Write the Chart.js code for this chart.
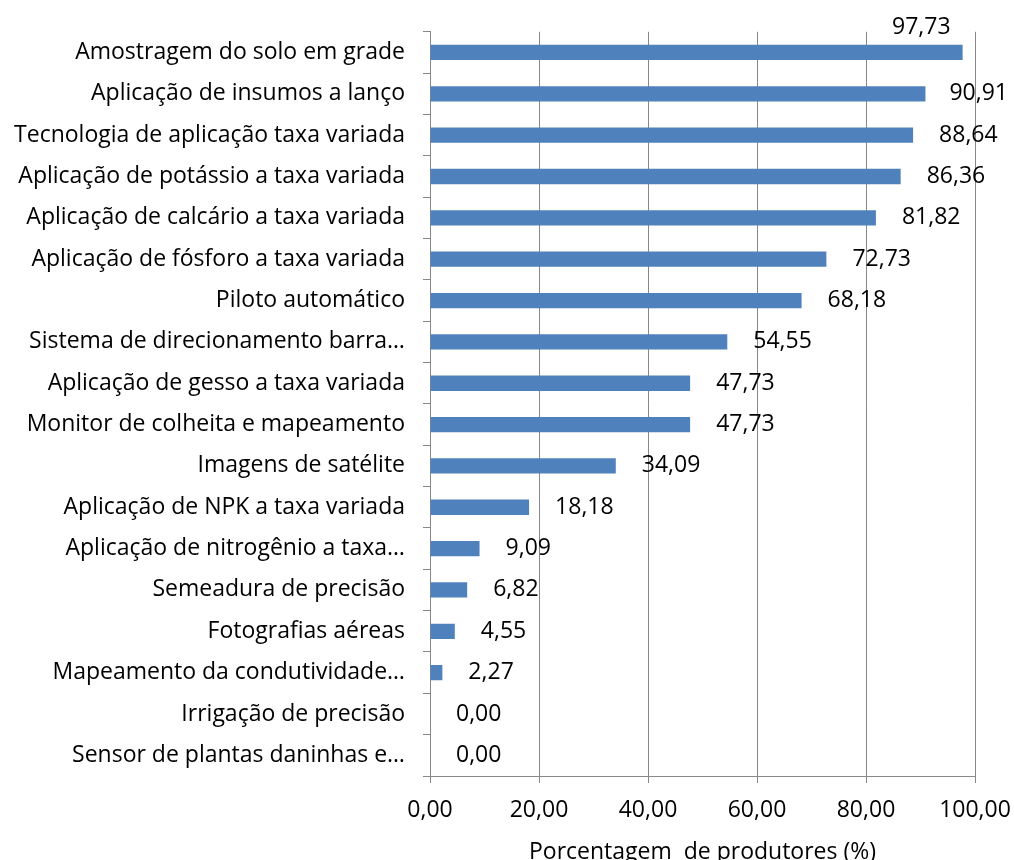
<!DOCTYPE html>
<html>
<head>
<meta charset="utf-8">
<script src="https://cdn.jsdelivr.net/npm/chart.js@4"></script>
<style>
  html, body { margin: 0; padding: 0; background: #fff; overflow: hidden; }
  #wrap { width: 1040px; height: 866px; }
</style>
</head>
<body>
<div id="wrap"><canvas id="myChart"></canvas></div>
<script>
// dados
const categorias = [
    'Amostragem do solo em grade',
    'Aplicação de insumos a lanço',
    'Tecnologia de aplicação taxa variada',
    'Aplicação de potássio a taxa variada',
    'Aplicação de calcário a taxa variada',
    'Aplicação de fósforo a taxa variada',
    'Piloto automático',
    'Sistema de direcionamento barra…',
    'Aplicação de gesso a taxa variada',
    'Monitor de colheita e mapeamento',
    'Imagens de satélite',
    'Aplicação de NPK a taxa variada',
    'Aplicação de nitrogênio a taxa…',
    'Semeadura de precisão',
    'Fotografias aéreas',
    'Mapeamento da condutividade…',
    'Irrigação de precisão',
    'Sensor de plantas daninhas e…'
];
const valores = [97.73, 90.91, 88.64, 86.36, 81.82, 72.73, 68.18, 54.55, 47.73, 47.73, 34.09, 18.18, 9.09, 6.82, 4.55, 2.27, 0.00, 0.00];
const ticksX = [0, 20, 40, 60, 80, 100];

const fmt = v => v.toFixed(2).replace('.', ',');
const fonte = "'Open Sans', sans-serif";
const tam = 23;
const larguraVisivel = 1014;

// rotulos de dados ao lado das barras
const rotulos = {
    id: 'rotulos',
    afterDatasetsDraw(chart) {
        const ctx = chart.ctx;
        const meta = chart.getDatasetMeta(0);
        ctx.save();
        ctx.font = tam + 'px ' + fonte;
        ctx.fillStyle = '#000';
        ctx.textBaseline = 'middle';
        meta.data.forEach((bar, i) => {
            const txt = fmt(valores[i]);
            const w = ctx.measureText(txt).width;
            let x = Math.min(bar.x + 26, larguraVisivel - w - 6);
            let y = bar.y;
            if (x < bar.x + 8) {
                // sem espaco: vai acima do fim da barra
                x = bar.x - w - 12;
                y = bar.y - 25;
            }
            ctx.fillText(txt, x, y);
        });
        ctx.restore();
    }
};

const config = {
    type: 'bar',
    data: {
        labels: categorias,
        datasets: [{
            data: valores,
            backgroundColor: '#4F81BD',
            borderWidth: 0,
            barPercentage: 0.37,
            categoryPercentage: 1
        }]
    },
    options: {
        indexAxis: 'y',
        responsive: true,
        maintainAspectRatio: false,
        animation: false,
        layout: {
            padding: { top: 24, right: 65, left: 0, bottom: 0 }
        },
        plugins: {
            legend: { display: false },
            tooltip: { enabled: false }
        },
        scales: {
            x: {
                min: 0,
                max: 100,
                afterBuildTicks: axis => {
                    axis.ticks = ticksX.map(v => ({ value: v }));
                },
                afterFit: axis => { axis.height = 90; },
                ticks: {
                    color: '#000',
                    font: { family: fonte, size: tam },
                    padding: 14,
                    callback: v => fmt(v)
                },
                grid: {
                    color: '#888',
                    lineWidth: 1,
                    tickLength: 7
                },
                border: { color: '#888' },
                title: {
                    display: true,
                    text: 'Porcentagem  de produtores (%)',
                    color: '#000',
                    font: { family: fonte, size: tam },
                    padding: { top: 14, bottom: 0 }
                }
            },
            y: {
                afterFit: axis => { axis.width = 430; },
                ticks: {
                    color: '#000',
                    font: { family: fonte, size: tam },
                    padding: 18,
                    autoSkip: false
                },
                grid: {
                    drawOnChartArea: false,
                    color: '#888',
                    tickLength: 7,
                    offset: true
                },
                border: { color: '#888' }
            }
        }
    },
    plugins: [rotulos]
};

let myChart = new Chart(document.getElementById('myChart'), config);
</script>
</body>
</html>
